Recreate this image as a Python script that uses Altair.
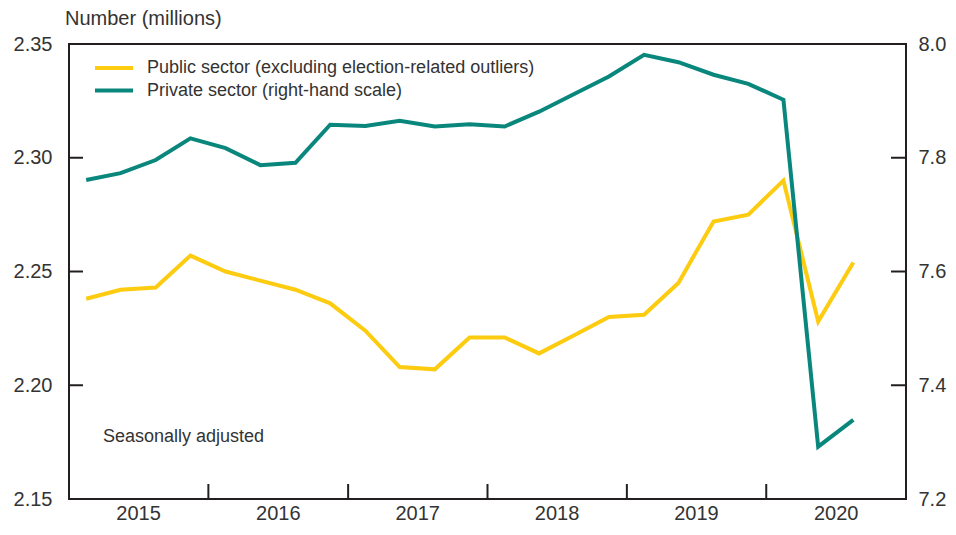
import altair as alt
import pandas as pd

# ---- data ----
quarter_mid = [
    "2015-02-15", "2015-05-16", "2015-08-16", "2015-11-15",
    "2016-02-15", "2016-05-16", "2016-08-16", "2016-11-15",
    "2017-02-15", "2017-05-16", "2017-08-16", "2017-11-15",
    "2018-02-15", "2018-05-16", "2018-08-16", "2018-11-15",
    "2019-02-15", "2019-05-16", "2019-08-16", "2019-11-15",
    "2020-02-15", "2020-05-16", "2020-08-16",
]
public = [2.238, 2.242, 2.243, 2.257, 2.250, 2.246, 2.242, 2.236,
          2.224, 2.208, 2.207, 2.221, 2.221, 2.214, 2.222, 2.230,
          2.231, 2.245, 2.272, 2.275, 2.290, 2.228, 2.254]
private = [7.761, 7.773, 7.796, 7.834, 7.817, 7.787, 7.791, 7.858,
           7.856, 7.865, 7.855, 7.859, 7.855, 7.881, 7.912, 7.943,
           7.981, 7.968, 7.946, 7.930, 7.902, 7.292, 7.339]
year_labels = [2015, 2016, 2017, 2018, 2019, 2020]
year_boundaries = ["2016-01-01", "2017-01-01", "2018-01-01", "2019-01-01", "2020-01-01"]
left_ticks = [2.15, 2.20, 2.25, 2.30, 2.35]
right_ticks = [7.2, 7.4, 7.6, 7.8, 8.0]
series_names = ["Public sector (excluding election-related outliers)",
                "Private sector (right-hand scale)"]
y_title = "Number (millions)"
note = "Seasonally adjusted"

# ---- styles ----
FONT = "Liberation Sans"
TEXT = "#333333"
FRAME = "#231F20"
YELLOW = "#FDCB10"
TEAL = "#0A877C"
W, H = 837, 455

df = pd.DataFrame({
    "date": [d + "T00:00:00" for d in quarter_mid],
    "public": public,
    "private": private,
})

x_scale = alt.Scale(domain=[alt.DateTime(year=2015, month=1, date=1),
                            alt.DateTime(year=2021, month=1, date=1)])
x_axis = alt.Axis(values=[alt.DateTime(year=y, month=7, date=1) for y in year_labels],
                  format="%Y", ticks=False, domain=False, grid=False,
                  labelPadding=4, labelFontSize=20, labelColor=TEXT,
                  labelFont=FONT, title=None)
x_enc = alt.X("date:T", scale=x_scale, axis=x_axis, title=None)

# left group
left_axis = alt.Axis(orient="left", values=left_ticks, format=".2f", ticks=False,
                     domain=False, grid=False, labelPadding=17, labelFontSize=20,
                     labelColor=TEXT, labelFont=FONT, title=None)
left_scale = alt.Scale(domain=[2.15, 2.35], zero=False, nice=False)
public_line = alt.Chart(df).mark_line(color=YELLOW, strokeWidth=4).encode(
    x=x_enc, y=alt.Y("public:Q", scale=left_scale, axis=left_axis, title=None))
left_tick_rules = alt.Chart(pd.DataFrame({"public": left_ticks[1:-1]})).mark_rule(
    color=FRAME, strokeWidth=2).encode(
    y=alt.Y("public:Q", title=None), x=alt.value(0), x2=alt.value(14))
left_group = alt.layer(public_line, left_tick_rules)

# right group
right_axis = alt.Axis(orient="right", values=right_ticks, format=".1f", ticks=False,
                      domain=False, grid=False, labelPadding=12, labelFontSize=20,
                      labelColor=TEXT, labelFont=FONT, title=None)
right_scale = alt.Scale(domain=[7.2, 8.0], zero=False, nice=False)
private_line = alt.Chart(df).mark_line(color=TEAL, strokeWidth=4).encode(
    x=x_enc, y=alt.Y("private:Q", scale=right_scale, axis=right_axis, title=None))
right_tick_rules = alt.Chart(pd.DataFrame({"private": right_ticks[1:-1]})).mark_rule(
    color=FRAME, strokeWidth=2).encode(
    y=alt.Y("private:Q", title=None), x=alt.value(W - 15), x2=alt.value(W))
right_group = alt.layer(private_line, right_tick_rules)

# x ticks (inward)
x_tick_rules = alt.Chart(pd.DataFrame({"date": [d + "T00:00:00" for d in year_boundaries]})).mark_rule(
    color=FRAME, strokeWidth=2).encode(x=x_enc, y=alt.value(H - 15), y2=alt.value(H))

# legend (manual)
legend_layers = []
for i, (name, col) in enumerate(zip(series_names, [YELLOW, TEAL])):
    yy = 24 + i * 22.5
    ldf = pd.DataFrame({"label": [name]})
    legend_layers.append(alt.Chart(ldf).mark_rule(color=col, strokeWidth=4).encode(
        x=alt.value(26), x2=alt.value(64), y=alt.value(yy)))
    legend_layers.append(alt.Chart(ldf).mark_text(
        align="left", baseline="middle", font=FONT, fontSize=18, color=TEXT).encode(
        text="label:N", x=alt.value(78), y=alt.value(yy)))

note_text = alt.Chart(pd.DataFrame({"t": [note]})).mark_text(
    align="left", baseline="alphabetic", font=FONT, fontSize=18, color=TEXT).encode(
    text="t:N", x=alt.value(34), y=alt.value(398))

title_text = alt.Chart(pd.DataFrame({"t": [y_title]})).mark_text(
    align="left", baseline="alphabetic", font=FONT, fontSize=20, color=TEXT).encode(
    text="t:N", x=alt.value(-4), y=alt.value(-19))

chart = alt.layer(
    left_group, right_group, x_tick_rules, note_text, title_text, *legend_layers
).resolve_scale(y="independent").properties(
    width=W, height=H,
    autosize=alt.AutoSizeParams(type="none"),
    padding={"left": 61, "top": 36, "right": 42, "bottom": 28},
).configure_view(stroke=FRAME, strokeWidth=2)

chart.save("out.html", embed_options={"renderer": "svg", "actions": False})
